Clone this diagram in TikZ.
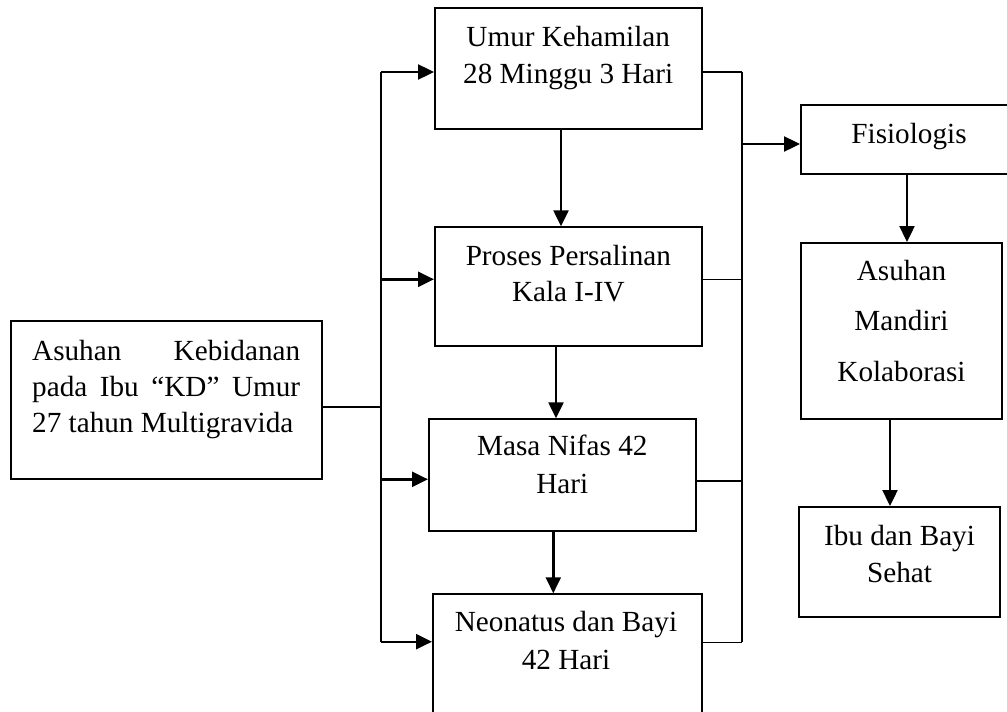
\documentclass[tikz,border=0pt]{standalone}
\usepackage{fontspec}
\setmainfont{Liberation Serif}
\usetikzlibrary{arrows.meta}
\tikzset{
  box/.style={draw, line width=2pt, inner sep=0pt, minimum width=#1},
  ln/.style={line width=1.6pt},
  arr/.style={line width=2.4pt, -{Triangle[length=16pt,width=15pt]}},
  txt/.style={anchor=base, inner sep=0pt, font=\fontsize{29.2}{36}\selectfont},
  ltxt/.style={anchor=base west, inner sep=0pt, font=\fontsize{29.2}{36}\selectfont}
}
\begin{document}
\begin{tikzpicture}[x=1pt, y=-1pt]
\useasboundingbox (0,0) rectangle (1007,712);
\fill[white] (0,0) rectangle (1007,712);
\clip (0,0) rectangle (1007,712);
% boxes
\node[box=311pt, minimum height=158.3pt] (L) at (166.2,399.85) {};
\node[box=266.5pt, minimum height=121pt] (B1) at (568.25,68.5) {};
\node[box=266.7pt, minimum height=118.4pt] (B2) at (568.35,286.5) {};
\node[box=266.7pt, minimum height=111.4pt] (B3) at (562.35,475) {};
\node[box=268.7pt, minimum height=127.7pt] (B4) at (567.35,658.15) {};
\node[box=216pt, minimum height=69pt] (F) at (909,139.5) {};
\node[box=201pt, minimum height=176pt] (A) at (901.5,331) {};
\node[box=201pt, minimum height=110pt] (I) at (899.5,562) {};
% texts
\node[ltxt] (l1) at (32,360) {\hbox to 268pt{Asuhan\hfill Kebidanan}};
\node[ltxt] (l2) at (32,396.7) {\hbox to 268pt{pada\hfill Ibu\hfill “KD”\hfill Umur}};
\node[ltxt] (l3) at (32,432.8) {27 tahun Multigravida};
\node[txt] (b1a) at (568.25,46) {Umur Kehamilan};
\node[txt] (b1b) at (568.25,83) {28 Minggu 3 Hari};
\node[txt] (b2a) at (568.35,265) {Proses Persalinan};
\node[txt] (b2b) at (568.35,301.7) {Kala I-IV};
\node[txt] (b3a) at (562.35,455.5) {Masa Nifas 42};
\node[txt] (b3b) at (562.35,493) {Hari};
\node[txt] (b4a) at (566,631.7) {Neonatus dan Bayi};
\node[txt] (b4b) at (566,669.3) {42 Hari};
\node[txt] (fa) at (909,143.3) {Fisiologis};
\node[txt] (aa) at (901.5,280) {Asuhan};
\node[txt] (ab) at (901.5,330.7) {Mandiri};
\node[txt] (ac) at (901.5,381.7) {Kolaborasi};
\node[txt] (ia) at (899.5,545.7) {Ibu dan Bayi};
\node[txt] (ib) at (899.5,582.7) {Sehat};
% junction coordinates
\coordinate (LT) at (381,72);
\coordinate (L2) at (381,279.3);
\coordinate (L3) at (381,479.3);
\coordinate (LB) at (381,641.7);
\coordinate (RT) at (742,72);
\coordinate (R2) at (742,279.3);
\coordinate (R3) at (742,480.7);
\coordinate (RB) at (742,642.3);
\coordinate (RF) at (742,144);
% left bus
\draw[ln] ([yshift=-6.85pt]L.east) -- ([yshift=-6.85pt]L.east -| LT);
\draw[ln] (LT) -- (LB);
\draw[arr] (LT) -- (LT -| B1.west);
\draw[arr] (L2) -- (L2 -| B2.west);
\draw[arr] (L3) -- (L3 -| B3.west);
\draw[arr] (LB) -- (LB -| B4.west);
% right bus
\draw[ln] (RT -| B1.east) -- (RT);
\draw[ln] (R2 -| B2.east) -- (R2);
\draw[ln] (R3 -| B3.east) -- (R3);
\draw[ln] (RB -| B4.east) -- (RB);
\draw[ln] (RT) -- (RB);
\draw[arr] (RF) -- (RF -| F.west);
% vertical arrows
\draw[arr] ([xshift=-7.25pt]B1.south) -- ([xshift=-7.25pt]B1.south |- B2.north);
\draw[arr] ([xshift=-12.35pt]B2.south) -- ([xshift=-12.35pt]B2.south |- B3.north);
\draw[arr] ([xshift=-9.05pt]B3.south) -- ([xshift=-9.05pt]B3.south |- B4.north);
\draw[arr] ([xshift=-2pt]F.south) -- ([xshift=-2pt]F.south |- A.north);
\draw[arr] ([xshift=-11.5pt]A.south) -- ([xshift=-11.5pt]A.south |- I.north);
\end{tikzpicture}
\end{document}
